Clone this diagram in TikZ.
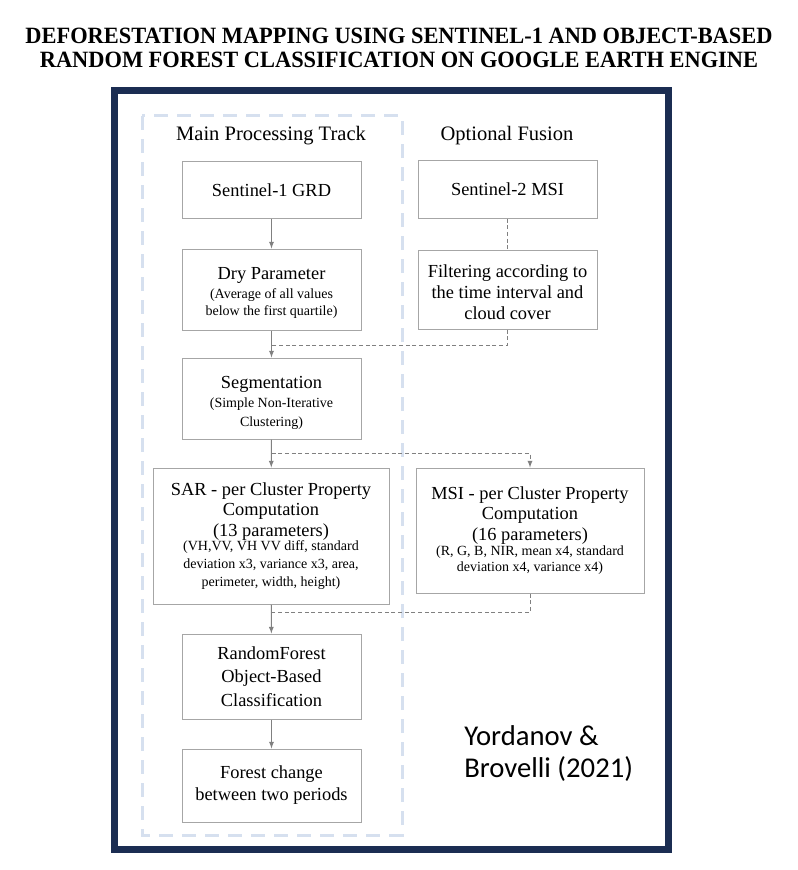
\documentclass[tikz,border=0pt]{standalone}
\usepackage{fontspec}
\setmainfont{Liberation Serif}
\newfontfamily\citefont{Carlito}
\usepackage{tikz}
\usetikzlibrary{calc}
\definecolor{framenavy}{HTML}{1B2D52}
\definecolor{trackblue}{HTML}{D6E0EF}
\definecolor{boxgray}{HTML}{A6A6A6}
\definecolor{linkgray}{HTML}{808080}
\newcommand{\boxfnt}{\fontsize{13.8pt}{16.5pt}\selectfont}
\newcommand{\smallfnt}{\fontsize{10.5pt}{13pt}\selectfont}
\newcommand{\topgap}[1]{\rule{0pt}{#1}}
\tikzset{
    box/.style 2 args={
            draw=boxgray, line width=0.75pt, fill=white, inner sep=0pt,
            align=center, font=\boxfnt,
            minimum width={#1*0.75pt}, minimum height={#2*0.75pt}
        },
    hdr/.style={font=\fontsize{15.4pt}{18pt}\selectfont, inner sep=0pt},
    flow/.style={draw=linkgray, line width=0.75pt, -latex},
    link/.style={draw=linkgray, line width=0.75pt, dash pattern=on 3pt off 2pt},
    frame/.style={draw=framenavy, line width=5.25pt},
    track/.style={draw=trackblue, line width=2.25pt, dash pattern=on 10.5pt off 6.75pt},
}
\begin{document}
\begin{tikzpicture}[x=0.75pt, y=-0.75pt]
        \useasboundingbox (0, 0) rectangle (798, 870);
        %draw title
        \node[font=\bfseries\fontsize{17.5pt}{18pt}\selectfont, align=center, inner sep=0pt, xscale=0.96] (title) at (399, 47.5)
            {DEFORESTATION MAPPING USING SENTINEL-1 AND OBJECT-BASED\\RANDOM FOREST CLASSIFICATION ON GOOGLE EARTH ENGINE};
        %draw outer frame and track
        \draw[frame] (114.5, 91) rectangle (668.5, 849.5);
        \draw[track] (142, 116) rectangle (402, 835);
        %draw headers
        \node[hdr] (hdrmain) at (271, 136) {Main Processing Track};
        \node[hdr] (hdropt) at (507, 136) {Optional Fusion};
        %draw main track boxes
        \node[box={179}{56}] (sone) at (271.5, 190) {Sentinel-1 GRD};
        \node[box={179}{81}] (dry) at (271.5, 289.5)
            {\topgap{14pt}Dry Parameter\\[-2pt]{\smallfnt (Average of all values}\\[-3.5pt]{\smallfnt below the first quartile)}};
        \node[box={179}{81}] (seg) at (271.5, 398.5)
            {\topgap{15.5pt}Segmentation\\[-2pt]{\smallfnt (Simple Non-Iterative}\\[-2.8pt]{\smallfnt Clustering)}};
        \node[box={236}{136}] (sar) at (271, 536)
            {SAR - per Cluster Property\\[-1.3pt]Computation\\[-1.3pt](13 parameters)\\[-5.8pt]{\smallfnt (VH,VV, VH VV diff, standard}\\[-3pt]{\smallfnt deviation x3, variance x3, area,}\\[-3pt]{\smallfnt perimeter, width, height)}};
        \node[box={179}{85}] (rf) at (271.5, 676.5) {RandomForest\\[1pt]Object-Based\\[1pt]Classification};
        \node[box={179}{73}] (fc) at (271.5, 785.5) {Forest change\\between two periods};
        %draw optional fusion boxes
        \node[box={179}{57}] (stwo) at (507.5, 189.5) {Sentinel-2 MSI};
        \node[box={179}{79}] (filt) at (507.5, 289.5)
            {\topgap{14pt}Filtering according to\\[-0.7pt]the time interval and\\[-0.7pt]cloud cover};
        \node[box={228}{125}] (msi) at (530, 530.5)
            {MSI - per Cluster Property\\[-1pt]Computation\\[-1.3pt](16 parameters)\\[-5pt]{\smallfnt (R, G, B, NIR, mean x4, standard}\\[-4.5pt]{\smallfnt deviation x4, variance x4)}};
        %draw join points
        \coordinate (joinfilt) at (271.5, 345);
        \coordinate (joinseg) at (271.5, 453);
        \coordinate (joinmsi) at (271.5, 612);
        %draw connectors
        \draw[flow] (sone) -- (dry);
        \draw[flow] (dry) -- (seg);
        \draw[flow] (seg) -- (sar);
        \draw[flow] (sar) -- (rf);
        \draw[flow] (rf) -- (fc);
        \draw[link] (stwo) -- (filt);
        \draw[link] (filt.south) |- (joinfilt);
        \draw[link, -latex] (joinseg) -| (msi.north);
        \draw[link] (msi.south) |- (joinmsi);
        %draw citation
        \node[font=\citefont\fontsize{21.5pt}{24pt}\selectfont, align=left, anchor=west, inner sep=0pt] (cite) at (464, 753.5)
            {Yordanov \&\\Brovelli (2021)};
\end{tikzpicture}
\end{document}
